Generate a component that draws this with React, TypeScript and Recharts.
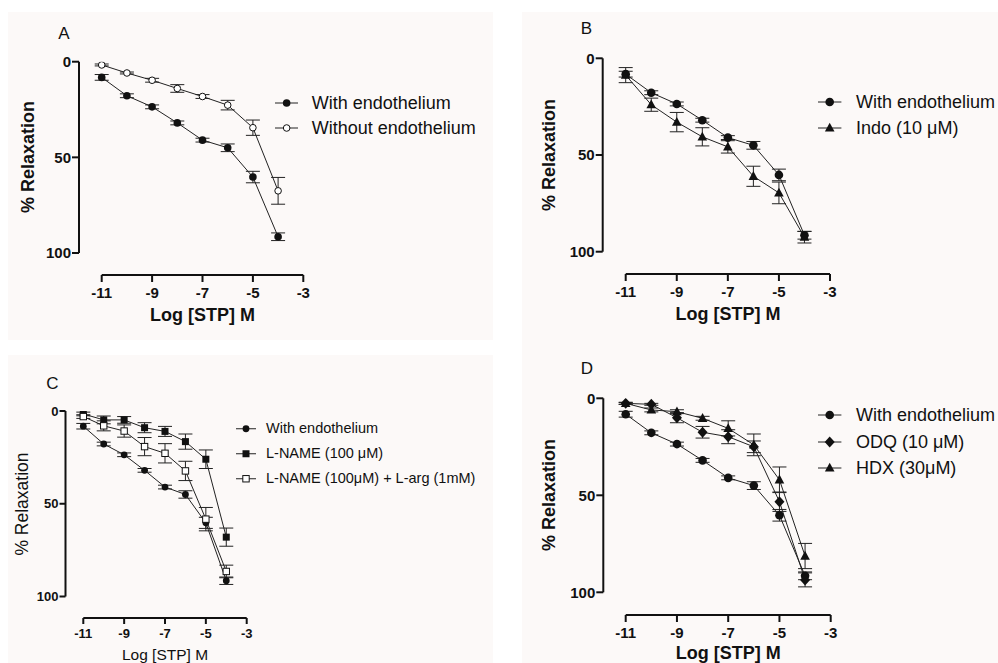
import React from 'react';
import { LineChart, Line, XAxis, YAxis, ErrorBar, ReferenceLine } from 'recharts';

// log concentration of STP (M)
const doses = [-11, -10, -9, -8, -7, -6, -5, -4];
const xTicks = [-11, -9, -7, -5, -3];
const yTicks = [0, 50, 100];

// % relaxation, mean and SEM
const withEndo = [8.2, 17.8, 23.6, 32, 41, 45, 60.3, 91.5];
const withEndoErr = [1.5, 1, 1, 1, 1, 2, 3, 2];
const withoutEndo = [1.7, 5.9, 9.7, 14, 18.2, 22.7, 34.5, 67.5];
const withoutEndoErr = [0.5, 0.5, 1, 2, 1, 2.5, 4, 7];
const indo = [8.7, 24, 33, 40.6, 45.8, 61, 69.6, 92.5];
const indoErr = [3.9, 3.4, 5, 4.7, 3.2, 5.2, 5.6, 3];
const lname = [1.6, 4.8, 4.8, 9, 11, 16.5, 26, 68];
const lnameErr = [1, 2.1, 1.8, 2.7, 2.7, 4.1, 5, 4.9];
const lnameLarg = [3, 8, 10.8, 19.2, 22.8, 32.3, 58.3, 86.5];
const lnameLargErr = [1, 2.7, 3.3, 4.9, 5.2, 5.2, 6.3, 3.4];
const odq = [2.6, 3.1, 10, 17.5, 19.8, 25, 53.3, 93.6];
const odqErr = [0.5, 0.5, 2.6, 3, 3.6, 3, 5, 3.6];
const hdx = [2.6, 6, 6.9, 10.3, 15.5, 24, 42, 81.3];
const hdxErr = [0.5, 1, 1, 1, 3.9, 5.6, 6.6, 6.5];

const FONT = "'Liberation Sans', Arial, Helvetica, sans-serif";
const INK = '#111';
const BG = '#fcf9f8';

type Kind = 'circle' | 'openCircle' | 'triangle' | 'square' | 'openSquare' | 'diamond';

function Marker({ kind, cx, cy, s }: { kind: Kind; cx: number; cy: number; s: number }) {
  if (cx == null || cy == null) return null;
  const h = s / 2;
  switch (kind) {
    case 'circle':
      return <circle cx={cx} cy={cy} r={h} fill={INK} />;
    case 'openCircle':
      return <circle cx={cx} cy={cy} r={h - 0.5} fill="#fff" stroke={INK} strokeWidth={1} />;
    case 'triangle':
      return (
        <polygon
          points={`${cx},${cy - s * 0.6} ${cx - h - 0.5},${cy + s * 0.42} ${cx + h + 0.5},${cy + s * 0.42}`}
          fill={INK}
        />
      );
    case 'square':
      return <rect x={cx - h} y={cy - h} width={s} height={s} fill={INK} />;
    case 'openSquare':
      return <rect x={cx - h + 0.5} y={cy - h + 0.5} width={s - 1} height={s - 1} fill="#fff" stroke={INK} strokeWidth={1} />;
    case 'diamond':
      return <polygon points={`${cx},${cy - h - 1} ${cx + h + 0.5},${cy} ${cx},${cy + h + 1} ${cx - h - 0.5},${cy}`} fill={INK} />;
  }
  return null;
}

type Series = { name: string; values: number[]; errors: number[]; kind: Kind; size: number };

type PanelCfg = {
  letter: string;
  letterPos: [number, number];
  box: { x: number; y: number; w: number; h: number };
  axisX: number;
  x11: number;
  x3: number;
  y0: number;
  y100: number;
  xAxisY: number;
  tickFs: number;
  tickSize: number;
  labelFs: number;
  xLabelFs: number;
  labelWeight: number;
  yLabelPos: [number, number];
  xLabelPos: [number, number];
  legend: { x1: number; x2: number; textX: number; rows: number[]; fs: number };
  series: Series[];
};

const panels: PanelCfg[] = [
  {
    letter: 'A',
    letterPos: [64, 32.5],
    box: { x: 8, y: 12, w: 485, h: 328 },
    axisX: 79,
    x11: 101.7,
    x3: 303.3,
    y0: 61.7,
    y100: 253,
    xAxisY: 275,
    tickFs: 15,
    tickSize: 7,
    labelFs: 18,
    xLabelFs: 18,
    labelWeight: 700,
    yLabelPos: [27.5, 157.4],
    xLabelPos: [202.5, 315],
    legend: { x1: 275, x2: 298.3, textX: 311.7, rows: [102.5, 127.5], fs: 18 },
    series: [
      { name: 'With endothelium', values: withEndo, errors: withEndoErr, kind: 'circle', size: 7.6 },
      { name: 'Without endothelium', values: withoutEndo, errors: withoutEndoErr, kind: 'openCircle', size: 7.6 },
    ],
  },
  {
    letter: 'B',
    letterPos: [586.5, 27.5],
    box: { x: 522, y: 12, w: 476, h: 328 },
    axisX: 602.7,
    x11: 625.7,
    x3: 830,
    y0: 58.3,
    y100: 251.7,
    xAxisY: 274,
    tickFs: 15,
    tickSize: 7,
    labelFs: 18,
    xLabelFs: 18,
    labelWeight: 700,
    yLabelPos: [549, 155],
    xLabelPos: [727.9, 314],
    legend: { x1: 818.3, x2: 841.7, textX: 856, rows: [101.5, 127.5], fs: 18 },
    series: [
      { name: 'With endothelium', values: withEndo, errors: withEndoErr, kind: 'circle', size: 8.6 },
      { name: 'Indo (10 \u03bcM)', values: indo, errors: indoErr, kind: 'triangle', size: 8.6 },
    ],
  },
  {
    letter: 'C',
    letterPos: [52.5, 382.5],
    box: { x: 8, y: 355, w: 485, h: 308 },
    axisX: 65.5,
    x11: 83.3,
    x3: 246.7,
    y0: 411,
    y100: 596.5,
    xAxisY: 618,
    tickFs: 13,
    tickSize: 6,
    labelFs: 17.5,
    xLabelFs: 15.5,
    labelWeight: 400,
    yLabelPos: [23.3, 503.7],
    xLabelPos: [165, 654.5],
    legend: { x1: 236, x2: 256, textX: 266, rows: [428.3, 453.3, 478.3], fs: 14.5 },
    series: [
      { name: 'With endothelium', values: withEndo, errors: withEndoErr, kind: 'circle', size: 6.8 },
      { name: 'L-NAME (100 \u03bcM)', values: lname, errors: lnameErr, kind: 'square', size: 7 },
      { name: 'L-NAME (100\u03bcM) + L-arg (1mM)', values: lnameLarg, errors: lnameLargErr, kind: 'openSquare', size: 7.4 },
    ],
  },
  {
    letter: 'D',
    letterPos: [587, 368],
    box: { x: 522, y: 340, w: 476, h: 323 },
    axisX: 603.3,
    x11: 625.7,
    x3: 830.7,
    y0: 398.3,
    y100: 592.3,
    xAxisY: 615,
    tickFs: 15,
    tickSize: 7,
    labelFs: 18,
    xLabelFs: 18,
    labelWeight: 700,
    yLabelPos: [549, 495.3],
    xLabelPos: [728.2, 652.5],
    legend: { x1: 818.3, x2: 841.7, textX: 856, rows: [415, 441.7, 468.3], fs: 18 },
    series: [
      { name: 'With endothelium', values: withEndo, errors: withEndoErr, kind: 'circle', size: 8.6 },
      { name: 'ODQ (10 \u03bcM)', values: odq, errors: odqErr, kind: 'diamond', size: 9 },
      { name: 'HDX (30\u03bcM)', values: hdx, errors: hdxErr, kind: 'triangle', size: 8.6 },
    ],
  },
];

function CenterText({ x, y, fs, weight = 400, rotate = false, children }: any) {
  return (
    <div
      style={{
        position: 'absolute',
        left: x,
        top: y,
        transform: `translate(-50%, -50%)${rotate ? ' rotate(-90deg)' : ''}`,
        fontSize: fs,
        fontWeight: weight,
        lineHeight: 1,
        whiteSpace: 'nowrap',
        color: INK,
        fontFamily: FONT,
      }}
    >
      {children}
    </div>
  );
}

function Panel({ cfg }: { cfg: PanelCfg }) {
  const pxPerX = (cfg.x3 - cfg.x11) / 8;
  const xMin = -11 - (cfg.x11 - cfg.axisX) / pxPerX;
  const yMax = ((cfg.xAxisY - cfg.y0) / (cfg.y100 - cfg.y0)) * 100;
  const yAxisW = 50;
  const xAxisH = 30;
  const margin = {
    left: cfg.axisX - cfg.box.x - yAxisW,
    top: cfg.y0 - cfg.box.y,
    right: cfg.box.x + cfg.box.w - cfg.x3,
    bottom: cfg.box.y + cfg.box.h - cfg.xAxisY - xAxisH,
  };

  const rows = doses.map((d, i) => {
    const r: Record<string, number> = { x: d };
    cfg.series.forEach((s, k) => {
      r[`v${k}`] = s.values[i];
      r[`e${k}`] = s.errors[i];
    });
    return r;
  });

  const tickStyle = { fill: INK, fontSize: cfg.tickFs, fontWeight: 700, fontFamily: FONT };

  return (
    <>
      <div
        style={{
          position: 'absolute',
          left: cfg.box.x,
          top: cfg.box.y,
          width: cfg.box.w,
          height: cfg.box.h,
          background: BG,
        }}
      />
      <div style={{ position: 'absolute', left: cfg.box.x, top: cfg.box.y }}>
        <LineChart width={cfg.box.w} height={cfg.box.h} data={rows} margin={margin}>
          <XAxis
            dataKey="x"
            type="number"
            domain={[xMin, -3]}
            allowDataOverflow
            ticks={xTicks}
            interval={0}
            axisLine={false}
            tickSize={cfg.tickSize}
            tickMargin={5}
            stroke={INK}
            tickLine={{ stroke: INK, strokeWidth: 2 }}
            tick={tickStyle}
            height={xAxisH}
          />
          <YAxis
            type="number"
            domain={[0, yMax]}
            allowDataOverflow
            reversed
            ticks={yTicks}
            interval={0}
            axisLine={false}
            tickSize={cfg.tickSize}
            tickMargin={1}
            stroke={INK}
            tickLine={{ stroke: INK, strokeWidth: 2 }}
            tick={tickStyle}
            width={yAxisW}
          />
          <ReferenceLine
            segment={[{ x: xMin, y: 0 }, { x: xMin, y: 100 }]}
            stroke={INK}
            strokeWidth={2}
            ifOverflow="visible"
          />
          <ReferenceLine
            segment={[{ x: -11, y: yMax }, { x: -3, y: yMax }]}
            stroke={INK}
            strokeWidth={2}
            ifOverflow="visible"
          />
          {cfg.series.map((s, k) => (
            <Line
              key={s.name}
              dataKey={`v${k}`}
              type="linear"
              stroke="#222"
              strokeWidth={1}
              isAnimationActive={false}
              dot={(p: any) => <Marker key={`${k}-${p.index}`} kind={s.kind} cx={p.cx} cy={p.cy} s={s.size} />}
              activeDot={false}
            >
              <ErrorBar dataKey={`e${k}`} width={7} stroke="#222" strokeWidth={1} direction="y" />
            </Line>
          ))}
        </LineChart>
      </div>

      <CenterText x={cfg.letterPos[0]} y={cfg.letterPos[1]} fs={17}>
        {cfg.letter}
      </CenterText>
      <CenterText x={cfg.yLabelPos[0]} y={cfg.yLabelPos[1]} fs={cfg.labelFs} weight={cfg.labelWeight} rotate>
        % Relaxation
      </CenterText>
      <CenterText x={cfg.xLabelPos[0]} y={cfg.xLabelPos[1]} fs={cfg.xLabelFs} weight={cfg.labelWeight}>
        Log [STP] M
      </CenterText>

      {cfg.series.map((s, k) => {
        const w = cfg.legend.x2 - cfg.legend.x1;
        return (
          <div
            key={s.name}
            style={{
              position: 'absolute',
              left: cfg.legend.x1,
              top: cfg.legend.rows[k],
              transform: 'translateY(-50%)',
              display: 'flex',
              alignItems: 'center',
              whiteSpace: 'nowrap',
              fontFamily: FONT,
              fontSize: cfg.legend.fs,
              lineHeight: 1,
              color: INK,
            }}
          >
            <svg width={w} height={14} style={{ display: 'block' }}>
              <line x1={0} y1={7} x2={w} y2={7} stroke="#222" strokeWidth={1} />
              <Marker kind={s.kind} cx={w / 2} cy={7} s={s.size} />
            </svg>
            <span style={{ marginLeft: cfg.legend.textX - cfg.legend.x2 }}>{s.name}</span>
          </div>
        );
      })}
    </>
  );
}

export default function App() {
  return (
    <div
      style={{
        position: 'absolute',
        left: 0,
        top: 0,
        width: 998,
        height: 663,
        overflow: 'hidden',
        background: '#fff',
        fontFamily: FONT,
      }}
    >
      {panels.map((p) => (
        <Panel key={p.letter} cfg={p} />
      ))}
    </div>
  );
}
